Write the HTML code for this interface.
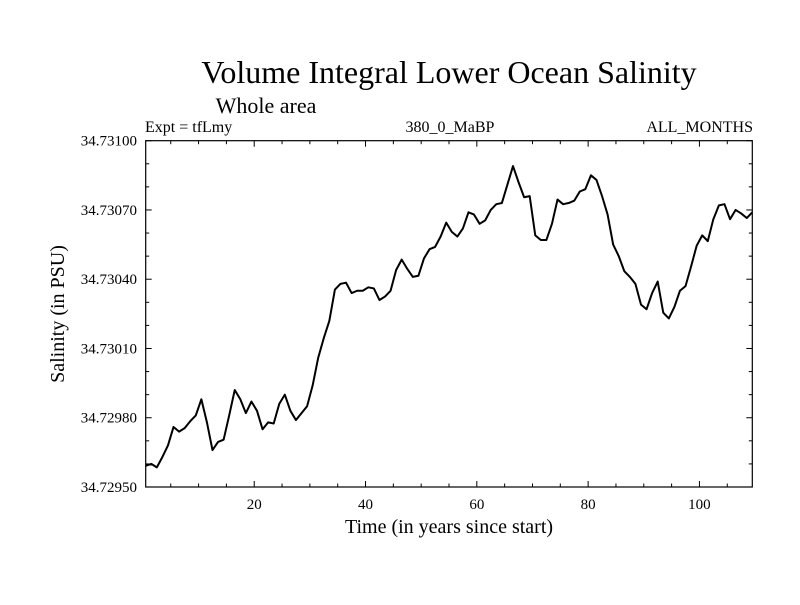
<!DOCTYPE html>
<html><head><meta charset="utf-8"><style>
body{margin:0;background:#fff}
svg text{font-family:"Liberation Serif",serif;fill:#000}
</style></head><body>
<svg id="chart" width="800" height="600" viewBox="0 0 800 600" xmlns="http://www.w3.org/2000/svg">
<text x="449" y="83" font-size="32" text-anchor="middle">Volume Integral Lower Ocean Salinity</text>
<text x="266" y="113" font-size="22" text-anchor="middle">Whole area</text>
<text x="145" y="132" font-size="16">Expt = tfLmy</text>
<text x="450" y="132" font-size="16" text-anchor="middle">380_0_MaBP</text>
<text x="753" y="132" font-size="16" text-anchor="end">ALL_MONTHS</text>
<text transform="translate(64,314) rotate(-90)" font-size="20" text-anchor="middle">Salinity (in PSU)</text>
<text x="449" y="533" font-size="20" text-anchor="middle">Time (in years since start)</text>
<g id="axes"></g>
<rect x="145.7" y="140.7" width="606.6" height="346.3" fill="none" stroke="#000" stroke-width="1.2"/>
<path id="line" fill="none" stroke="#000" stroke-width="2" stroke-linejoin="round"/>
</svg>
<script>
const salinityOffsets = [9.2,10,8.5,13,18,26,24,25.5,28.5,31,38,28,16,19.5,20.5,31,42,38,32,37,33,25,28,27.5,36,40,33,29,32,35,44,56,64.5,72,85.5,88,88.5,84,85,85,86.5,86,81,82.5,85,94,98.5,94.5,91,91.5,99,103,104,108.5,114.5,110.5,108.5,112,119,118,114,115.5,120,122.5,123,131,139,132,125.5,126,109,107,107,114,124.5,122.5,123,124,128,129,135,133,126,118,105,100,93.5,91,88,79,77,84,89,75.5,73,78,85,87,95.5,104.5,109,106.5,116,122,122.5,116,120,118.5,116.5,119];
const yBase = 34.7295;
const xTicks = [20,40,60,80,100];
const yTicks = [34.7295,34.7298,34.7301,34.7304,34.7307,34.7310];
const yTickLabels = ["34.72950","34.72980","34.73010","34.73040","34.73070","34.73100"];
const X0=145.7,X1=752.3,Y0=487,Y1=140.7,XMIN=0.5,XMAX=109.5,YMIN=34.7295,YMAX=34.7310;
function xs(v){return X0+(v-XMIN)/(XMAX-XMIN)*(X1-X0);}
function ys(v){return Y0-(v-YMIN)/(YMAX-YMIN)*(Y0-Y1);}
const NS="http://www.w3.org/2000/svg";
const g=document.getElementById('axes');
function ln(x1,y1,x2,y2,name){const l=document.createElementNS(NS,'line');l.setAttribute('x1',x1);l.setAttribute('y1',y1);l.setAttribute('x2',x2);l.setAttribute('y2',y2);l.setAttribute('stroke','#000');l.setAttribute('stroke-width','1');


g.appendChild(l);}
for(let v=5;v<=XMAX;v+=5){const x=xs(v);const L=(v%20===0)?6:3.5;ln(x,Y0,x,Y0-L,'x-tick');ln(x,Y1,x,Y1+L,'x-tick-top');}
for(let k=0;k<=15;k++){const v=YMIN+k*0.0001;const y=ys(v);const L=(k%3===0)?6:3.5;ln(X0,y,X0+L,y,'y-tick');ln(X1,y,X1-L,y,'y-tick-right');}
xTicks.forEach(v=>{const t=document.createElementNS(NS,'text');t.setAttribute('x',xs(v));t.setAttribute('y',Y0+22);t.setAttribute('font-size','15');t.setAttribute('text-anchor','middle');t.textContent=v;


g.appendChild(t);});
yTicks.forEach((v,i)=>{const t=document.createElementNS(NS,'text');t.setAttribute('x',137);t.setAttribute('y',ys(v)+5);t.setAttribute('font-size','15');t.setAttribute('text-anchor','end');t.textContent=yTickLabels[i];


g.appendChild(t);});
document.getElementById('line').setAttribute('d',salinityOffsets.map((o,i)=>(i?'L':'M')+xs(0.5+i).toFixed(2)+','+ys(yBase+o*1e-5).toFixed(2)).join(''));
</script>
</body></html>
